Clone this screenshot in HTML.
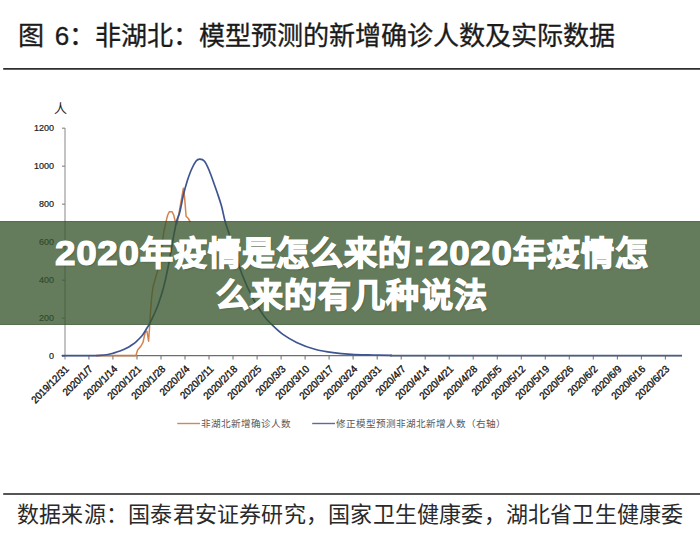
<!DOCTYPE html>
<html lang="zh-CN"><head><meta charset="utf-8">
<style>
html,body{margin:0;padding:0;background:#fff;}
body{width:700px;height:546px;position:relative;overflow:hidden;font-family:"Liberation Sans",sans-serif;}
svg.chart{position:absolute;left:0;top:0;}
.title{position:absolute;left:18px;top:19.5px;font-size:26.1px;line-height:32px;color:#1b1b1b;white-space:nowrap;-webkit-text-stroke:0.3px #1b1b1b;}
.ren{position:absolute;left:53.5px;top:101px;font-size:13px;line-height:15px;color:#222;}
.yl{position:absolute;right:646px;font-size:9px;line-height:12px;color:#1a1a1a;text-align:right;-webkit-text-stroke:0.2px #1a1a1a;}
.xl{position:absolute;top:363.5px;font-size:10.2px;line-height:10.2px;color:#111;white-space:nowrap;transform-origin:100% 0;transform:rotate(-45deg) scaleX(0.95);-webkit-text-stroke:0.35px #111;}
.leg{position:absolute;top:417px;font-size:9.6px;line-height:13px;color:#595959;white-space:nowrap;}
.src{position:absolute;left:17px;top:502px;font-family:"Liberation Serif",serif;font-size:22px;letter-spacing:0.22px;line-height:26px;color:#2a2a2a;white-space:nowrap;}
.banner{position:absolute;left:0;top:221px;width:700px;height:104px;background:rgba(56,87,46,0.78);box-shadow:inset 0 1px 0 rgba(30,50,30,.18),inset 0 -1px 0 rgba(30,50,30,.18);}
.b{position:absolute;color:#fff;font-weight:bold;-webkit-text-stroke:1.4px #fff;text-shadow:1px 1px 2px rgba(0,0,0,.3);font-size:33px;letter-spacing:1px;line-height:42px;white-space:nowrap;}
.b.d{display:inline-block;transform-origin:0 0;transform:scaleX(1.055);font-size:35px;letter-spacing:0.6px;-webkit-text-stroke:1.2px #fff;}
</style></head><body>
<svg class="chart" width="700" height="546" viewBox="0 0 700 546">
<line x1="65" y1="128" x2="65" y2="359.5" stroke="#b4b4b4" stroke-width="1.6"/>
<line x1="62" y1="128.2" x2="65" y2="128.2" stroke="#8c8c8c" stroke-width="1.2"/>
<line x1="62" y1="166.2" x2="65" y2="166.2" stroke="#8c8c8c" stroke-width="1.2"/>
<line x1="62" y1="204.2" x2="65" y2="204.2" stroke="#8c8c8c" stroke-width="1.2"/>
<line x1="62" y1="242.2" x2="65" y2="242.2" stroke="#8c8c8c" stroke-width="1.2"/>
<line x1="62" y1="280.2" x2="65" y2="280.2" stroke="#8c8c8c" stroke-width="1.2"/>
<line x1="62" y1="318.2" x2="65" y2="318.2" stroke="#8c8c8c" stroke-width="1.2"/>
<line x1="62" y1="356.2" x2="65" y2="356.2" stroke="#8c8c8c" stroke-width="1.2"/>
<line x1="61.5" y1="355.6" x2="682" y2="355.6" stroke="#6e6e6e" stroke-width="1.3"/>
<line x1="88.9" y1="355.7" x2="88.9" y2="359.5" stroke="#7a7a7a" stroke-width="1.1"/>
<line x1="112.9" y1="355.7" x2="112.9" y2="359.5" stroke="#7a7a7a" stroke-width="1.1"/>
<line x1="137.0" y1="355.7" x2="137.0" y2="359.5" stroke="#7a7a7a" stroke-width="1.1"/>
<line x1="161.0" y1="355.7" x2="161.0" y2="359.5" stroke="#7a7a7a" stroke-width="1.1"/>
<line x1="185.0" y1="355.7" x2="185.0" y2="359.5" stroke="#7a7a7a" stroke-width="1.1"/>
<line x1="209.0" y1="355.7" x2="209.0" y2="359.5" stroke="#7a7a7a" stroke-width="1.1"/>
<line x1="233.0" y1="355.7" x2="233.0" y2="359.5" stroke="#7a7a7a" stroke-width="1.1"/>
<line x1="257.1" y1="355.7" x2="257.1" y2="359.5" stroke="#7a7a7a" stroke-width="1.1"/>
<line x1="281.1" y1="355.7" x2="281.1" y2="359.5" stroke="#7a7a7a" stroke-width="1.1"/>
<line x1="305.1" y1="355.7" x2="305.1" y2="359.5" stroke="#7a7a7a" stroke-width="1.1"/>
<line x1="329.1" y1="355.7" x2="329.1" y2="359.5" stroke="#7a7a7a" stroke-width="1.1"/>
<line x1="353.1" y1="355.7" x2="353.1" y2="359.5" stroke="#7a7a7a" stroke-width="1.1"/>
<line x1="377.2" y1="355.7" x2="377.2" y2="359.5" stroke="#7a7a7a" stroke-width="1.1"/>
<line x1="401.2" y1="355.7" x2="401.2" y2="359.5" stroke="#7a7a7a" stroke-width="1.1"/>
<line x1="425.2" y1="355.7" x2="425.2" y2="359.5" stroke="#7a7a7a" stroke-width="1.1"/>
<line x1="449.2" y1="355.7" x2="449.2" y2="359.5" stroke="#7a7a7a" stroke-width="1.1"/>
<line x1="473.2" y1="355.7" x2="473.2" y2="359.5" stroke="#7a7a7a" stroke-width="1.1"/>
<line x1="497.3" y1="355.7" x2="497.3" y2="359.5" stroke="#7a7a7a" stroke-width="1.1"/>
<line x1="521.3" y1="355.7" x2="521.3" y2="359.5" stroke="#7a7a7a" stroke-width="1.1"/>
<line x1="545.3" y1="355.7" x2="545.3" y2="359.5" stroke="#7a7a7a" stroke-width="1.1"/>
<line x1="569.3" y1="355.7" x2="569.3" y2="359.5" stroke="#7a7a7a" stroke-width="1.1"/>
<line x1="593.3" y1="355.7" x2="593.3" y2="359.5" stroke="#7a7a7a" stroke-width="1.1"/>
<line x1="617.4" y1="355.7" x2="617.4" y2="359.5" stroke="#7a7a7a" stroke-width="1.1"/>
<line x1="641.4" y1="355.7" x2="641.4" y2="359.5" stroke="#7a7a7a" stroke-width="1.1"/>
<line x1="665.4" y1="355.7" x2="665.4" y2="359.5" stroke="#7a7a7a" stroke-width="1.1"/>
<line x1="96" y1="355.7" x2="136.5" y2="355.6" stroke="#c27a4c" stroke-width="1.8"/>
<polyline points="136.0,355.5 137.6,350.0 141.0,346.0 143.0,342.3 145.3,332.0 147.0,331.3 148.6,341.2 149.7,325.3 150.5,312.0 151.7,296.6 153.1,286.5 157.1,272.4 160.2,260.3 163.8,232.0 166.0,221.6 167.7,215.0 169.3,211.8 172.1,211.8 173.7,215.0 175.1,220.7 177.0,224.0 178.4,216.3 183.4,188.2 184.5,196.5 186.1,216.3 188.3,218.5 190.5,222.3" fill="none" stroke="#d4834e" stroke-width="1.5" stroke-linejoin="round"/>
<path d="M62.0,355.6 C65.0,355.6 73.7,355.7 80.0,355.6 C86.3,355.6 95.3,355.5 100.0,355.3 C104.7,355.1 105.8,354.9 108.0,354.5 C110.2,354.1 111.0,353.8 113.0,353.2 C115.0,352.6 117.5,351.9 120.0,351.0 C122.5,350.1 125.8,348.6 127.8,347.6 C129.8,346.6 130.3,346.0 131.7,345.0 C133.1,344.0 134.2,343.5 136.0,341.8 C137.8,340.1 140.8,337.3 142.6,335.0 C144.4,332.7 145.8,329.9 147.0,328.0 C148.2,326.1 148.6,325.7 149.7,323.6 C150.8,321.5 152.2,318.5 153.6,315.4 C155.0,312.2 156.4,309.5 158.1,304.7 C159.8,299.9 162.1,292.9 163.8,286.5 C165.5,280.1 166.6,274.5 168.2,266.4 C169.8,258.3 171.9,245.6 173.3,238.0 C174.7,230.4 175.6,225.3 176.7,221.0 C177.8,216.7 178.7,216.5 179.8,212.0 C181.0,207.5 182.3,199.2 183.6,194.0 C184.8,188.8 186.0,184.9 187.3,180.7 C188.7,176.5 190.2,172.3 191.7,169.0 C193.2,165.7 194.8,162.7 196.1,161.0 C197.4,159.3 198.4,159.1 199.8,159.1 C201.2,159.1 203.0,159.4 204.5,161.2 C206.0,163.0 207.3,166.0 209.0,170.0 C210.7,174.0 213.0,180.8 214.5,185.0 C216.0,189.2 216.8,191.5 218.0,195.0 C219.2,198.5 220.3,201.7 221.5,206.0 C222.7,210.3 223.7,216.2 225.0,221.0 C226.3,225.8 228.1,230.5 229.5,235.0 C230.9,239.5 231.4,241.4 233.5,248.0 C235.6,254.6 238.8,265.9 242.0,274.3 C245.2,282.7 249.3,291.6 253.0,298.5 C256.7,305.4 260.9,311.7 264.0,316.0 C267.1,320.3 268.2,321.0 271.4,324.1 C274.5,327.2 278.7,331.3 282.9,334.4 C287.1,337.4 291.3,339.9 296.6,342.4 C301.9,344.9 308.8,347.6 314.9,349.3 C321.0,351.0 327.0,351.9 333.1,352.7 C339.2,353.5 344.5,353.9 351.4,354.3 C358.3,354.7 367.5,354.8 374.3,355.0 C381.1,355.2 389.1,355.3 392.0,355.4" fill="none" stroke="#3e5592" stroke-width="1.7" stroke-linejoin="round"/>
<line x1="390" y1="355.6" x2="682" y2="355.6" stroke="#4d5e80" stroke-width="1.7"/>
<line x1="177.2" y1="423.5" x2="200" y2="423.5" stroke="#c98a62" stroke-width="1.4"/>
<line x1="312.2" y1="423.5" x2="335" y2="423.5" stroke="#5b6a9c" stroke-width="1.4"/>
<line x1="3.2" y1="68.8" x2="700" y2="68.8" stroke="#2e2e2e" stroke-width="1.8"/>
<line x1="3.2" y1="494" x2="700" y2="494" stroke="#555" stroke-width="2"/>
</svg>
<div class="title">图 <span style="margin-left:3.5px">6</span>：非湖北：模型预测的新增确诊人数及实际数据</div>
<div class="ren">人</div>
<div class="yl" style="top:122.2px">1200</div>
<div class="yl" style="top:160.2px">1000</div>
<div class="yl" style="top:198.2px">800</div>
<div class="yl" style="top:236.2px">600</div>
<div class="yl" style="top:274.2px">400</div>
<div class="yl" style="top:312.2px">200</div>
<div class="yl" style="top:350.2px">0</div>
<div class="xl" style="right:635.9px">2019/12/31</div>
<div class="xl" style="right:611.9px">2020/1/7</div>
<div class="xl" style="right:587.9px">2020/1/14</div>
<div class="xl" style="right:563.8px">2020/1/21</div>
<div class="xl" style="right:539.8px">2020/1/28</div>
<div class="xl" style="right:515.8px">2020/2/4</div>
<div class="xl" style="right:491.8px">2020/2/11</div>
<div class="xl" style="right:467.8px">2020/2/18</div>
<div class="xl" style="right:443.7px">2020/2/25</div>
<div class="xl" style="right:419.7px">2020/3/3</div>
<div class="xl" style="right:395.7px">2020/3/10</div>
<div class="xl" style="right:371.7px">2020/3/17</div>
<div class="xl" style="right:347.7px">2020/3/24</div>
<div class="xl" style="right:323.6px">2020/3/31</div>
<div class="xl" style="right:299.6px">2020/4/7</div>
<div class="xl" style="right:275.6px">2020/4/14</div>
<div class="xl" style="right:251.6px">2020/4/21</div>
<div class="xl" style="right:227.6px">2020/4/28</div>
<div class="xl" style="right:203.5px">2020/5/5</div>
<div class="xl" style="right:179.5px">2020/5/12</div>
<div class="xl" style="right:155.5px">2020/5/19</div>
<div class="xl" style="right:131.5px">2020/5/26</div>
<div class="xl" style="right:107.5px">2020/6/2</div>
<div class="xl" style="right:83.4px">2020/6/9</div>
<div class="xl" style="right:59.4px">2020/6/16</div>
<div class="xl" style="right:35.4px">2020/6/23</div>
<div class="leg" style="left:201px">非湖北新增确诊人数</div>
<div class="leg" style="left:336px">修正模型预测非湖北新增人数（右轴）</div>
<div class="src">数据来源：国泰君安证券研究，国家卫生健康委，湖北省卫生健康委</div>
<div class="banner">
<span class="b d" style="left:55px;top:11px">2020</span>
<span class="b c" style="left:140px;top:12px">年疫情是怎么来的</span>
<span class="b d" style="left:412.5px;top:11px">:</span>
<span class="b d" style="left:428px;top:11px">2020</span>
<span class="b c" style="left:513px;top:12px">年疫情怎</span>
<span class="b c" style="left:216px;top:54px">么来的有几种说法</span>
</div>
</body></html>
